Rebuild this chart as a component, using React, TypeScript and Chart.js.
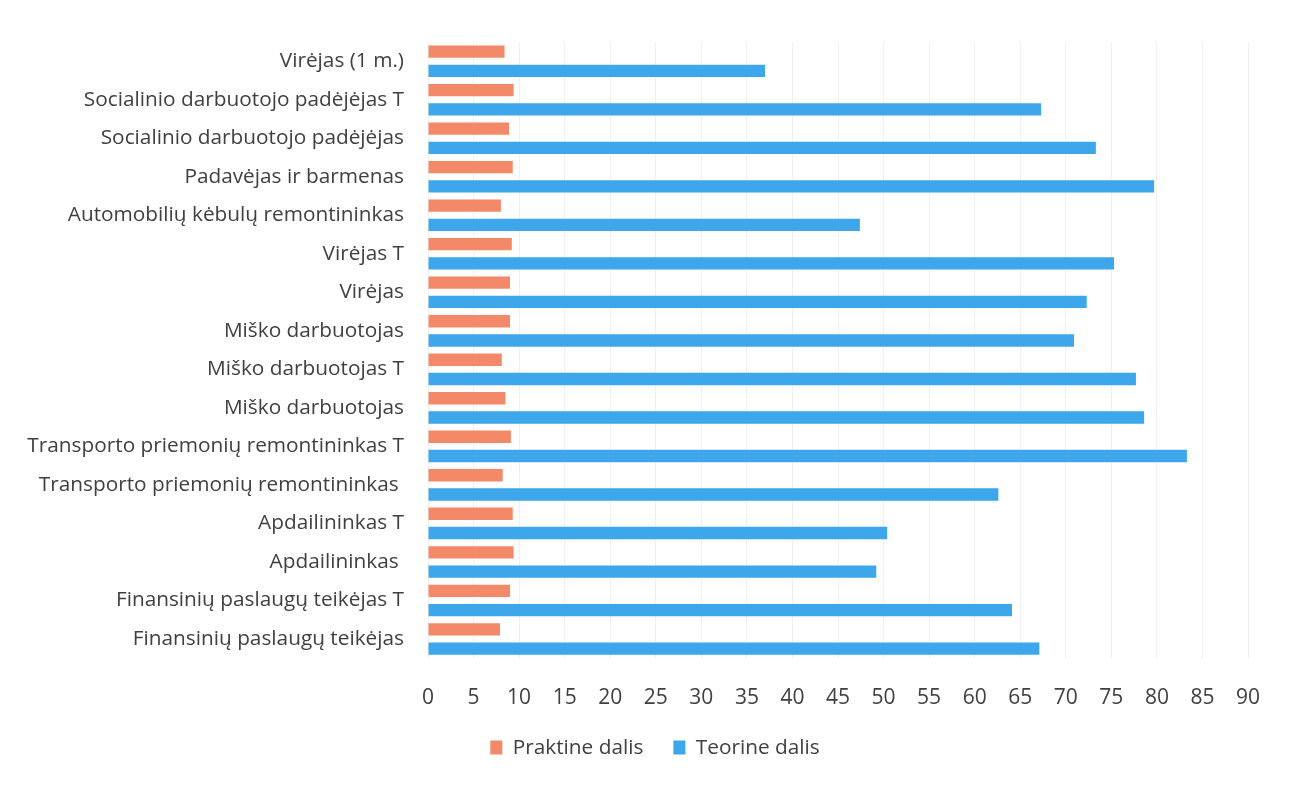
import React, { useEffect, useRef } from "react";
import { Chart, registerables } from "chart.js";

Chart.register(...registerables);

const categories = [
  "Virėjas (1 m.)",
  "Socialinio darbuotojo padėjėjas T",
  "Socialinio darbuotojo padėjėjas",
  "Padavėjas ir barmenas",
  "Automobilių kėbulų remontininkas",
  "Virėjas T",
  "Virėjas",
  "Miško darbuotojas",
  "Miško darbuotojas T",
  "Miško darbuotojas",
  "Transporto priemonių remontininkas T",
  "Transporto priemonių remontininkas ",
  "Apdailininkas T",
  "Apdailininkas ",
  "Finansinių paslaugų teikėjas T",
  "Finansinių paslaugų teikėjas",
];

const praktineDalis = [8.4, 9.4, 8.9, 9.3, 8.0, 9.2, 9.0, 9.0, 8.1, 8.5, 9.1, 8.2, 9.3, 9.4, 9.0, 7.9];
const teorineDalis = [37, 67.3, 73.3, 79.7, 47.4, 75.3, 72.3, 70.9, 77.7, 78.6, 83.3, 62.6, 50.4, 49.2, 64.1, 67.1];

const xTicks = { min: 0, max: 90, step: 5 };

const legendShift = {
  id: "legendShift",
  afterLayout(chart: any) {
    const lg = chart.legend;
    if (lg) {
      lg.left += 31;
      lg.right += 31;
    }
  },
};

export default function App() {
  const ref = useRef<HTMLCanvasElement | null>(null);
  useEffect(() => {
    if (!ref.current) return;
    const chart = new Chart(ref.current, {
      type: "bar",
      data: {
        labels: categories,
        datasets: [
          {
            label: "Praktine dalis",
            data: praktineDalis,
            backgroundColor: "#F4896A",
            barPercentage: 0.64,
            categoryPercentage: 1,
          },
          {
            label: "Teorine dalis",
            data: teorineDalis,
            backgroundColor: "#3EA6EA",
            barPercentage: 0.64,
            categoryPercentage: 1,
          },
        ],
      },
      options: {
        indexAxis: "y",
        animation: false,
        responsive: true,
        maintainAspectRatio: false,
        layout: { padding: { top: 42, right: 53, left: 0, bottom: 19 } },
        plugins: {
          tooltip: { enabled: false },
          legend: {
            position: "bottom",
            labels: {
              font: { family: "Open Sans", size: 20.8 },
              color: "#404040",
              boxWidth: 12,
              boxHeight: 14,
              padding: 30,
            },
          },
        },
        scales: {
          x: {
            min: xTicks.min,
            max: xTicks.max,
            ticks: {
              stepSize: xTicks.step,
              font: { family: "Open Sans", size: 21 },
              color: "#404040",
              padding: 27,
            },
            grid: { color: "#F0F0F0", drawTicks: false },
            border: { display: false },
            afterFit: (scale: any) => {
              scale.height = 49;
            },
          },
          y: {
            ticks: {
              font: { family: "Open Sans", size: 20.8 },
              color: "#404040",
              padding: 24,
              autoSkip: false,
            },
            grid: { display: false, drawTicks: false },
            border: { display: false },
            afterFit: (scale: any) => {
              scale.width = 428;
            },
          },
        },
      },
      plugins: [legendShift],
    });
    return () => chart.destroy();
  }, []);
  return (
    <div style={{ position: "fixed", left: 0, top: 0, width: 1301, height: 787, background: "#fff" }}>
      <canvas ref={ref} />
    </div>
  );
}
